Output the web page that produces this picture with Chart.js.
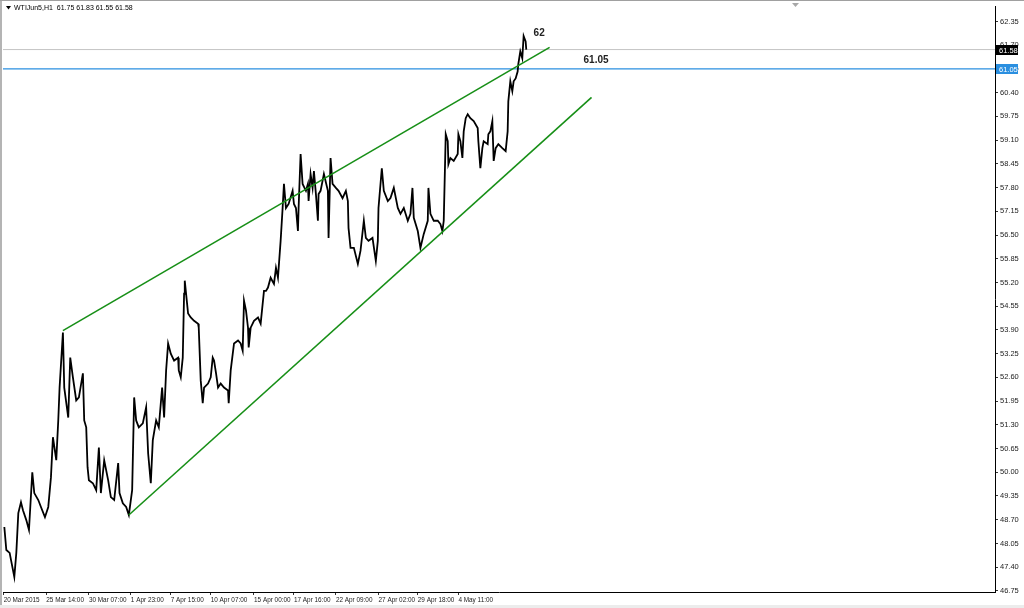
<!DOCTYPE html>
<html>
<head>
<meta charset="utf-8">
<script src="https://cdn.jsdelivr.net/npm/chart.js@4.4.0/dist/chart.umd.min.js"></script>
<style>
html,body{margin:0;padding:0;background:#fff;}
canvas{display:block;}
</style>
</head>
<body>
<canvas id="wti" width="1024" height="608"></canvas>
<script>
// ------------------ data ------------------
// bar number from the left edge, and price at that bar
const barIdx = [0,3,8,10,15,18,21,25,28,33,37,42,45,51,55,61,66,70,73,78,81,83,88,90,96,99,103,108,112,118,120,123,125,127,133,138,142,145,150,156,160,165,171,173,178,183,187,192,195,198,202,208,213,216,220,223,228,232,237,240,243,246,250,255,261,262,265,268,270,271,276,280,285,291,292,295,298,300,306,310,313,315,318,321,325,330,336,337,340,345,351,355,358,360,363,366,367,370,375,381,385,390,393,396,400,405,408,411,415,418,420,423,427,433,435,438,441,442,445,448,453,456,457,460,463,465,468,471,472,475,480,486,487,490,493,498,502,508,513,516,517,520,525,531,535,540,543,547,553,558,561,562,567,570,576,580,585,591,595,600,606,610,613,615,621,625,630,636,637,640,645,651,655,658,660,663,666,667,670,675,681,682,685,688,690,693,696,700,705,711,712,715,718,720,726,727,730,733,735,738,742,748,753,756,757,760,763,765,768,771,772,775,778,780,783,784];
const price = [48.50,47.87,47.79,47.60,47.13,47.79,48.88,49.18,48.96,48.69,48.42,50.00,49.43,49.24,49.05,48.77,49.05,49.86,50.96,50.33,51.42,52.32,53.83,52.32,51.50,53.14,52.60,51.97,52.05,52.71,51.42,51.23,50.14,49.78,49.70,49.51,50.68,49.43,50.33,49.78,49.32,49.24,50.25,49.43,49.15,49.05,48.83,49.51,52.05,51.42,51.23,51.34,51.78,50.52,49.70,50.88,51.42,51.23,52.32,51.50,52.79,53.53,53.25,53.06,53.14,52.79,52.60,53.14,54.89,55.25,54.35,54.24,54.15,54.07,53.96,52.51,51.89,52.32,52.43,52.60,53.14,53.06,52.71,52.32,52.43,52.32,52.24,51.89,52.79,53.53,53.61,53.53,53.33,54.70,54.43,53.96,53.42,53.96,54.15,54.24,54.07,54.97,54.97,55.06,55.33,55.16,55.60,55.33,56.34,57.24,57.90,57.24,57.35,57.71,57.35,57.24,56.61,57.24,58.72,57.90,57.71,57.90,57.43,58.17,57.79,58.25,57.62,56.89,57.62,57.71,58.17,57.71,56.42,58.61,57.90,57.79,57.71,57.51,57.71,57.43,56.69,56.15,56.15,55.71,56.07,56.89,56.42,56.34,56.42,55.79,56.34,57.24,58.33,57.71,57.43,57.51,57.79,57.24,57.08,57.24,56.89,57.08,57.79,56.97,56.61,56.15,56.53,56.89,57.79,57.08,56.89,56.89,56.80,56.61,56.89,59.26,59.07,58.44,58.61,58.53,58.72,59.26,59.07,58.61,59.34,59.70,59.81,59.70,59.62,59.43,59.07,58.33,58.88,59.07,58.99,59.26,59.34,59.62,58.53,58.88,58.99,58.88,58.80,59.34,60.16,60.71,60.44,60.71,60.79,60.98,61.18,61.53,61.34,61.95,61.80,61.58];

const timeTickIdx = [-1,63,127,190,250,310,375,435,498,562,621,682];
const timeTickText = ['20 Mar 2015','25 Mar 14:00','30 Mar 07:00','1 Apr 23:00','7 Apr 15:00','10 Apr 07:00','15 Apr 00:00','17 Apr 16:00','22 Apr 09:00','27 Apr 02:00','29 Apr 18:00','4 May 11:00'];
const priceTicks = [46.75,47.40,48.05,48.70,49.35,50.00,50.65,51.30,51.95,52.60,53.25,53.90,54.55,55.20,55.85,56.50,57.15,57.80,58.45,59.10,59.75,60.40,61.05,61.70,62.35];

// channel lines: [bar, price] at both ends
const upperLine = [[88,53.88],[819,61.64]];
const lowerLine = [[187,48.83],[882,60.27]];
const bidPrice = 61.58;
const levelPrice = 61.05;

const xMin = -2, xMax = 1488;
const yMin = 46.72, yMax = 62.76;

const fontName = '"Liberation Sans", Arial, sans-serif';
const green = '#178f17';
const blue = '#2a8fe0';

// ------------------ extra drawing (title, axis boxes, notes) ------------------
const mtDecor = {
	id: 'mtDecor',
	beforeDraw(chart){
		const c = chart.ctx;
		c.save();
		c.fillStyle = '#fff';
		c.fillRect(0, 0, chart.width, chart.height);
		c.restore();
	},
	afterDraw(chart){
		const c = chart.ctx;
		const xs = chart.scales.x, ys = chart.scales.y;
		const area = chart.chartArea;
		c.save();

		// window frame
		c.fillStyle = '#b4b4b4';
		c.fillRect(0, 0, 2, chart.height);
		c.fillStyle = '#a0a0a0';
		c.fillRect(0, 0, chart.width, 1);
		c.fillStyle = '#ececec';
		c.fillRect(0, 605, chart.width, 3);

		// shift marker at top
		c.fillStyle = '#a8a8a8';
		c.beginPath();
		c.moveTo(792, 3); c.lineTo(799, 3); c.lineTo(795.5, 7); c.closePath();
		c.fill();

		// symbol line
		c.fillStyle = '#000';
		c.beginPath();
		c.moveTo(6, 6); c.lineTo(11, 6); c.lineTo(8.5, 9.5); c.closePath();
		c.fill();
		c.font = '7px ' + fontName;
		c.textBaseline = 'middle';
		c.textAlign = 'left';
		c.fillText('WTIJun5,H1  61.75 61.83 61.55 61.58', 14, 8);

		// price boxes on the axis
		const box = (p, bg, txt) => {
			const y = Math.round(ys.getPixelForValue(p));
			c.fillStyle = bg;
			c.fillRect(area.right + 1, y - 5, 22, 10);
			c.fillStyle = '#fff';
			c.font = '7.5px ' + fontName;
			c.textAlign = 'left';
			c.fillText(txt, area.right + 4, y + 0.5);
		};
		box(bidPrice, '#000', bidPrice.toFixed(2));
		box(levelPrice, blue, levelPrice.toFixed(2));

		// notes on the chart
		c.fillStyle = '#222';
		c.font = 'bold 10px ' + fontName;
		c.textAlign = 'left';
		c.fillText('62', xs.getPixelForValue(795), ys.getPixelForValue(62.02));
		c.fillText('61.05', xs.getPixelForValue(870), ys.getPixelForValue(61.28));
		c.restore();
	}
};

// ------------------ chart ------------------
const flat = (p) => [{x: xMin, y: p}, {x: xMax, y: p}];
const seg = (l) => l.map(pt => ({x: pt[0], y: pt[1]}));

new Chart(document.getElementById('wti'), {
	type: 'line',
	data: {
		datasets: [
			{
				label: 'WTIJun5,H1',
				data: barIdx.map((b, i) => ({x: b, y: price[i]})),
				borderColor: '#000',
				borderWidth: 1.8,
				pointRadius: 0,
				tension: 0,
				order: 2
			},
			{ data: seg(upperLine), borderColor: green, borderWidth: 1.6, pointRadius: 0, order: 1 },
			{ data: seg(lowerLine), borderColor: green, borderWidth: 1.6, pointRadius: 0, order: 1 },
			{ data: flat(bidPrice), borderColor: '#c4c4c4', borderWidth: 1, pointRadius: 0, order: 4 },
			{ data: flat(levelPrice), borderColor: blue, borderWidth: 1.2, pointRadius: 0, order: 3 }
		]
	},
	options: {
		responsive: false,
		animation: false,
		devicePixelRatio: 1,
		layout: { padding: { left: 3, top: 5, right: 0, bottom: 0 } },
		plugins: { legend: { display: false }, tooltip: { enabled: false } },
		scales: {
			x: {
				type: 'linear',
				min: xMin,
				max: xMax,
				afterBuildTicks: (s) => { s.ticks = timeTickIdx.map(v => ({value: v})); },
				afterFit: (s) => { s.height = 16; },
				grid: { drawOnChartArea: false, drawTicks: true, tickLength: 3, color: '#333' },
				border: { display: true, color: '#000', width: 1 },
				ticks: {
					autoSkip: false,
					maxRotation: 0,
					align: 'start',
					padding: 1,
					color: '#222',
					font: { family: fontName, size: 6.4 },
					callback: (v, i) => timeTickText[i]
				}
			},
			y: {
				position: 'right',
				min: yMin,
				max: yMax,
				afterBuildTicks: (s) => { s.ticks = priceTicks.map(v => ({value: v})); },
				afterFit: (s) => { s.width = 29; },
				grid: { drawOnChartArea: false, drawTicks: true, tickLength: 3, color: '#333' },
				border: { display: true, color: '#000', width: 1 },
				ticks: {
					padding: 2,
					color: '#222',
					font: { family: fontName, size: 7.5 },
					callback: (v) => Number(v).toFixed(2)
				}
			}
		}
	},
	plugins: [mtDecor]
});
</script>
</body>
</html>
